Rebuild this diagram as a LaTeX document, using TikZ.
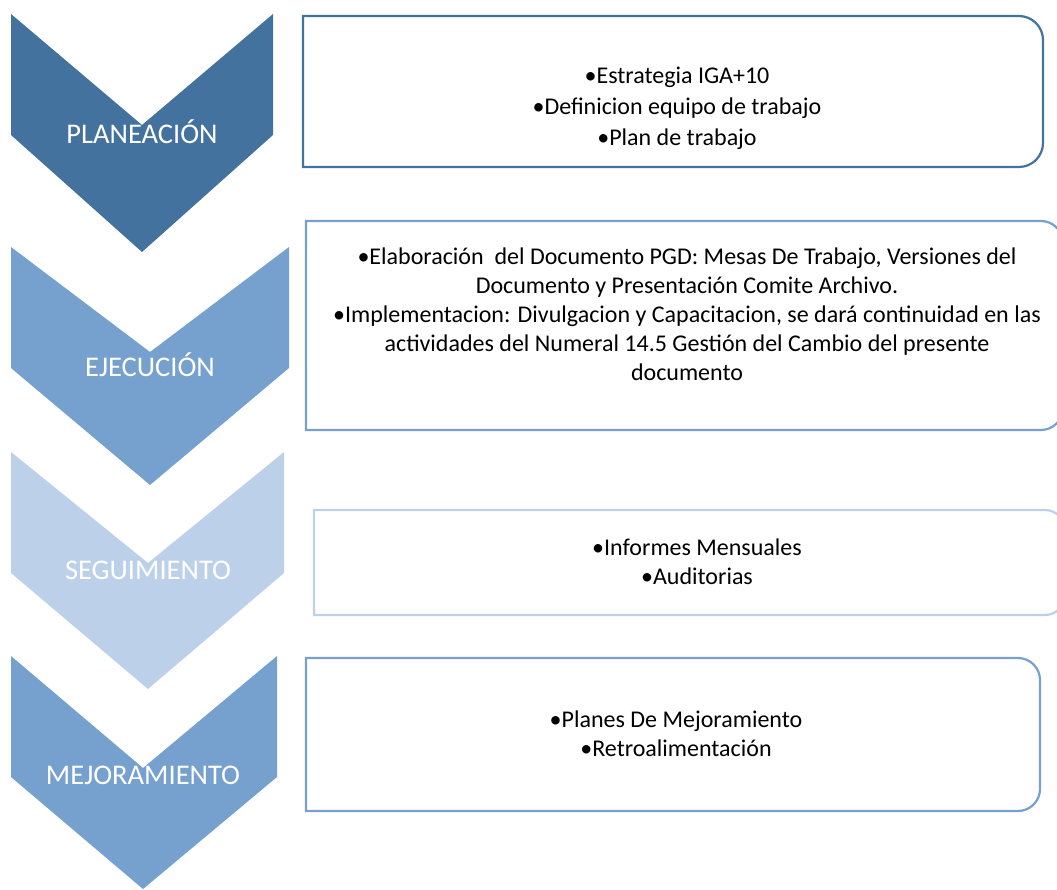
\documentclass[tikz,border=0pt]{standalone}
\usepackage{fontspec}
\setmainfont{Carlito}
\definecolor{cA}{RGB}{68,114,158}
\definecolor{cB}{RGB}{118,160,205}
\definecolor{cC}{RGB}{188,209,233}
\tikzset{
  chev/.style={fill=#1, draw=none},
  rbox/.style={draw=#1, line width=2.2pt, fill=white},
  lab/.style={text=white, font=\fontsize{28.5}{34}\selectfont, inner sep=0pt},
  btxt/.style={text=black, align=center, inner sep=0pt, font=\fontsize{24}{29}\selectfont},
}
% \rrbox{color}{L}{T}{R}{B}{r}
\newcommand\myrrbox[6]{%
  \draw[rbox=#1] (#2,#3) -- ({#4-#6},#3)
    .. controls ({#4-0.45*#6},#3) and (#4,{#3+0.45*#6}) .. (#4,{#3+#6})
    -- (#4,{#5-#6})
    .. controls (#4,{#5-0.45*#6}) and ({#4-0.45*#6},#5) .. ({#4-#6},#5)
    -- (#2,#5) -- cycle;}
\begin{document}
\begin{tikzpicture}[x=1pt,y=-1pt]
\useasboundingbox (0,0) rectangle (1057,890);
\clip (0,0) rectangle (1057,890);
% chevrons
\fill[chev=cA] (11,14) -- (142,125) -- (273,14) -- (273,135) -- (142,252) -- (11,135) -- cycle;
\fill[chev=cB] (11,247) -- (150,352) -- (289,247) -- (289,368) -- (150,485) -- (11,368) -- cycle;
\fill[chev=cC] (11,452) -- (148,563) -- (284,452) -- (284,573) -- (148,689) -- (11,573) -- cycle;
\fill[chev=cB] (11,656) -- (143,768) -- (277,656) -- (277,777) -- (143,889) -- (11,777) -- cycle;
\node[lab] (l1) at (142,132) {PLANEACIÓN};
\node[lab] (l2) at (150,365) {EJECUCIÓN};
\node[lab] (l3) at (148,570) {SEGUIMIENTO};
\node[lab] (l4) at (143,775) {MEJORAMIENTO};
% boxes
\myrrbox{cA}{303}{16}{1043}{167}{24}
\myrrbox{cB}{306}{221}{1063}{430}{22}
\myrrbox{cC}{314}{510}{1065}{615}{20}
\myrrbox{cB}{306}{658}{1040}{811}{22}
% texts
\node[btxt, font=\fontsize{24}{31}\selectfont] (t1) at (677,108) {•Estrategia IGA+10\\•Definicion equipo de trabajo\\•Plan de trabajo};
\node[btxt] (t2) at (687,314) {•Elaboración\ \ del Documento PGD: Mesas De Trabajo, Versiones del\\Documento y Presentación Comite Archivo.\\•Implementacion: Divulgacion y Capacitacion, se dará continuidad en las\\actividades del Numeral 14.5 Gestión del Cambio del presente\\documento};
\node[btxt] (t3) at (697,562) {•Informes Mensuales\\•Auditorias};
\node[btxt] (t4) at (676,734) {•Planes De Mejoramiento\\•Retroalimentación};
\end{tikzpicture}
\end{document}
